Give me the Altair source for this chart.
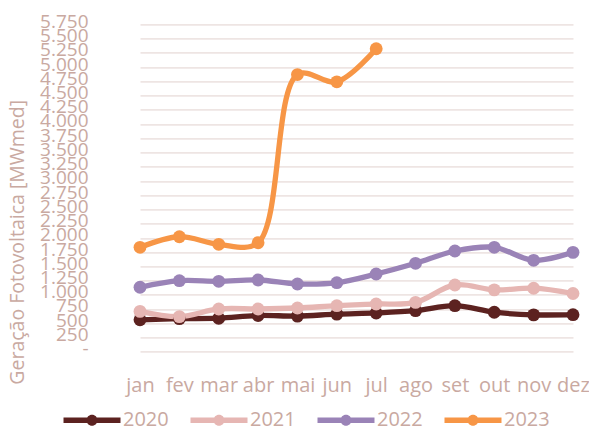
import altair as alt
import pandas as pd

months = ["jan", "fev", "mar", "abr", "mai", "jun", "jul", "ago", "set", "out", "nov", "dez"]
years = ["2020", "2021", "2022", "2023"]
v2020 = [560, 580, 588, 636, 625, 660, 680, 720, 808, 693, 647, 650]
v2021 = [708, 616, 750, 750, 767, 808, 837, 866, 1172, 1086, 1115, 1022]
v2022 = [1131, 1247, 1236, 1259, 1189, 1212, 1364, 1552, 1768, 1833, 1605, 1745]
v2023 = [1833, 2019, 1886, 1914, 4867, 4740, 5320]
colors = ["#5c2220", "#e6b6b3", "#9a83b7", "#f79646"]
ytick_values = list(range(0, 5751, 250))

rows = []
for yr, vals in zip(years, [v2020, v2021, v2022, v2023]):
    for i, v in enumerate(vals):
        rows.append({"mes": months[i], "ano": yr, "valor": v, "ord": i})
df = pd.DataFrame(rows)

TXT = "#c9a9a1"
FONT = "Open Sans"

legend_path = ("M-2.85,-0.27 L2.85,-0.27 L2.85,0.27 L-2.85,0.27 Z "
               "M0.55,0 A0.55,0.55 0 1,1 -0.55,0 A0.55,0.55 0 1,1 0.55,0 Z")

x = alt.X("mes:N", sort=months, scale=alt.Scale(domain=months, range=[21, 454], padding=0),
          axis=alt.Axis(title=None, ticks=False, domain=False, grid=False, labelAngle=0,
                        labelPadding=24, labelFontSize=20, labelColor=TXT, labelFont=FONT))
y = alt.Y("valor:Q", scale=alt.Scale(domain=[0, 5750], nice=False, zero=True),
          axis=alt.Axis(values=ytick_values, title="Geração Fotovoltaica [MWmed]",
                        titleFontSize=19.5, titleFont=FONT, titleColor=TXT, titleFontWeight="normal",
                        titleX=-101.5, titleY=217.5, titleBaseline="middle", titleAngle=270,
                        labelExpr="datum.value == 0 ? '-' : replace(format(datum.value, ','), ',', '.')",
                        labelOverlap=False, labelFontSize=19, labelColor=TXT, labelFont=FONT,
                        labelPadding=31, labelOffset=-3, ticks=False, domain=False,
                        gridColor="#eee5e3", gridWidth=1.8))
color = alt.Color("ano:N", scale=alt.Scale(domain=years, range=colors),
                  legend=alt.Legend(title=None, orient="none", direction="horizontal", columns=4,
                                    legendX=-37, legendY=386,
                                    symbolType=legend_path, symbolSize=400, symbolStrokeWidth=0,
                                    labelFontSize=20, labelColor=TXT, labelFont=FONT,
                                    labelOffset=21, columnPadding=21))

base = alt.Chart(df).encode(x=x, y=y, color=color, order="ord:Q")
lines = base.mark_line(strokeWidth=5.3, interpolate="catmull-rom")
points = base.mark_point(filled=True, opacity=1, size=165, shape="circle")

chart = (lines + points).properties(
    width=470, height=327.4,
    autosize=alt.AutoSizeParams(type="none"),
    padding={"left": 111, "top": 16.3, "right": 0, "bottom": 80},
).configure_view(stroke=None)

chart.save("out.html", embed_options={"renderer": "svg", "actions": False})
